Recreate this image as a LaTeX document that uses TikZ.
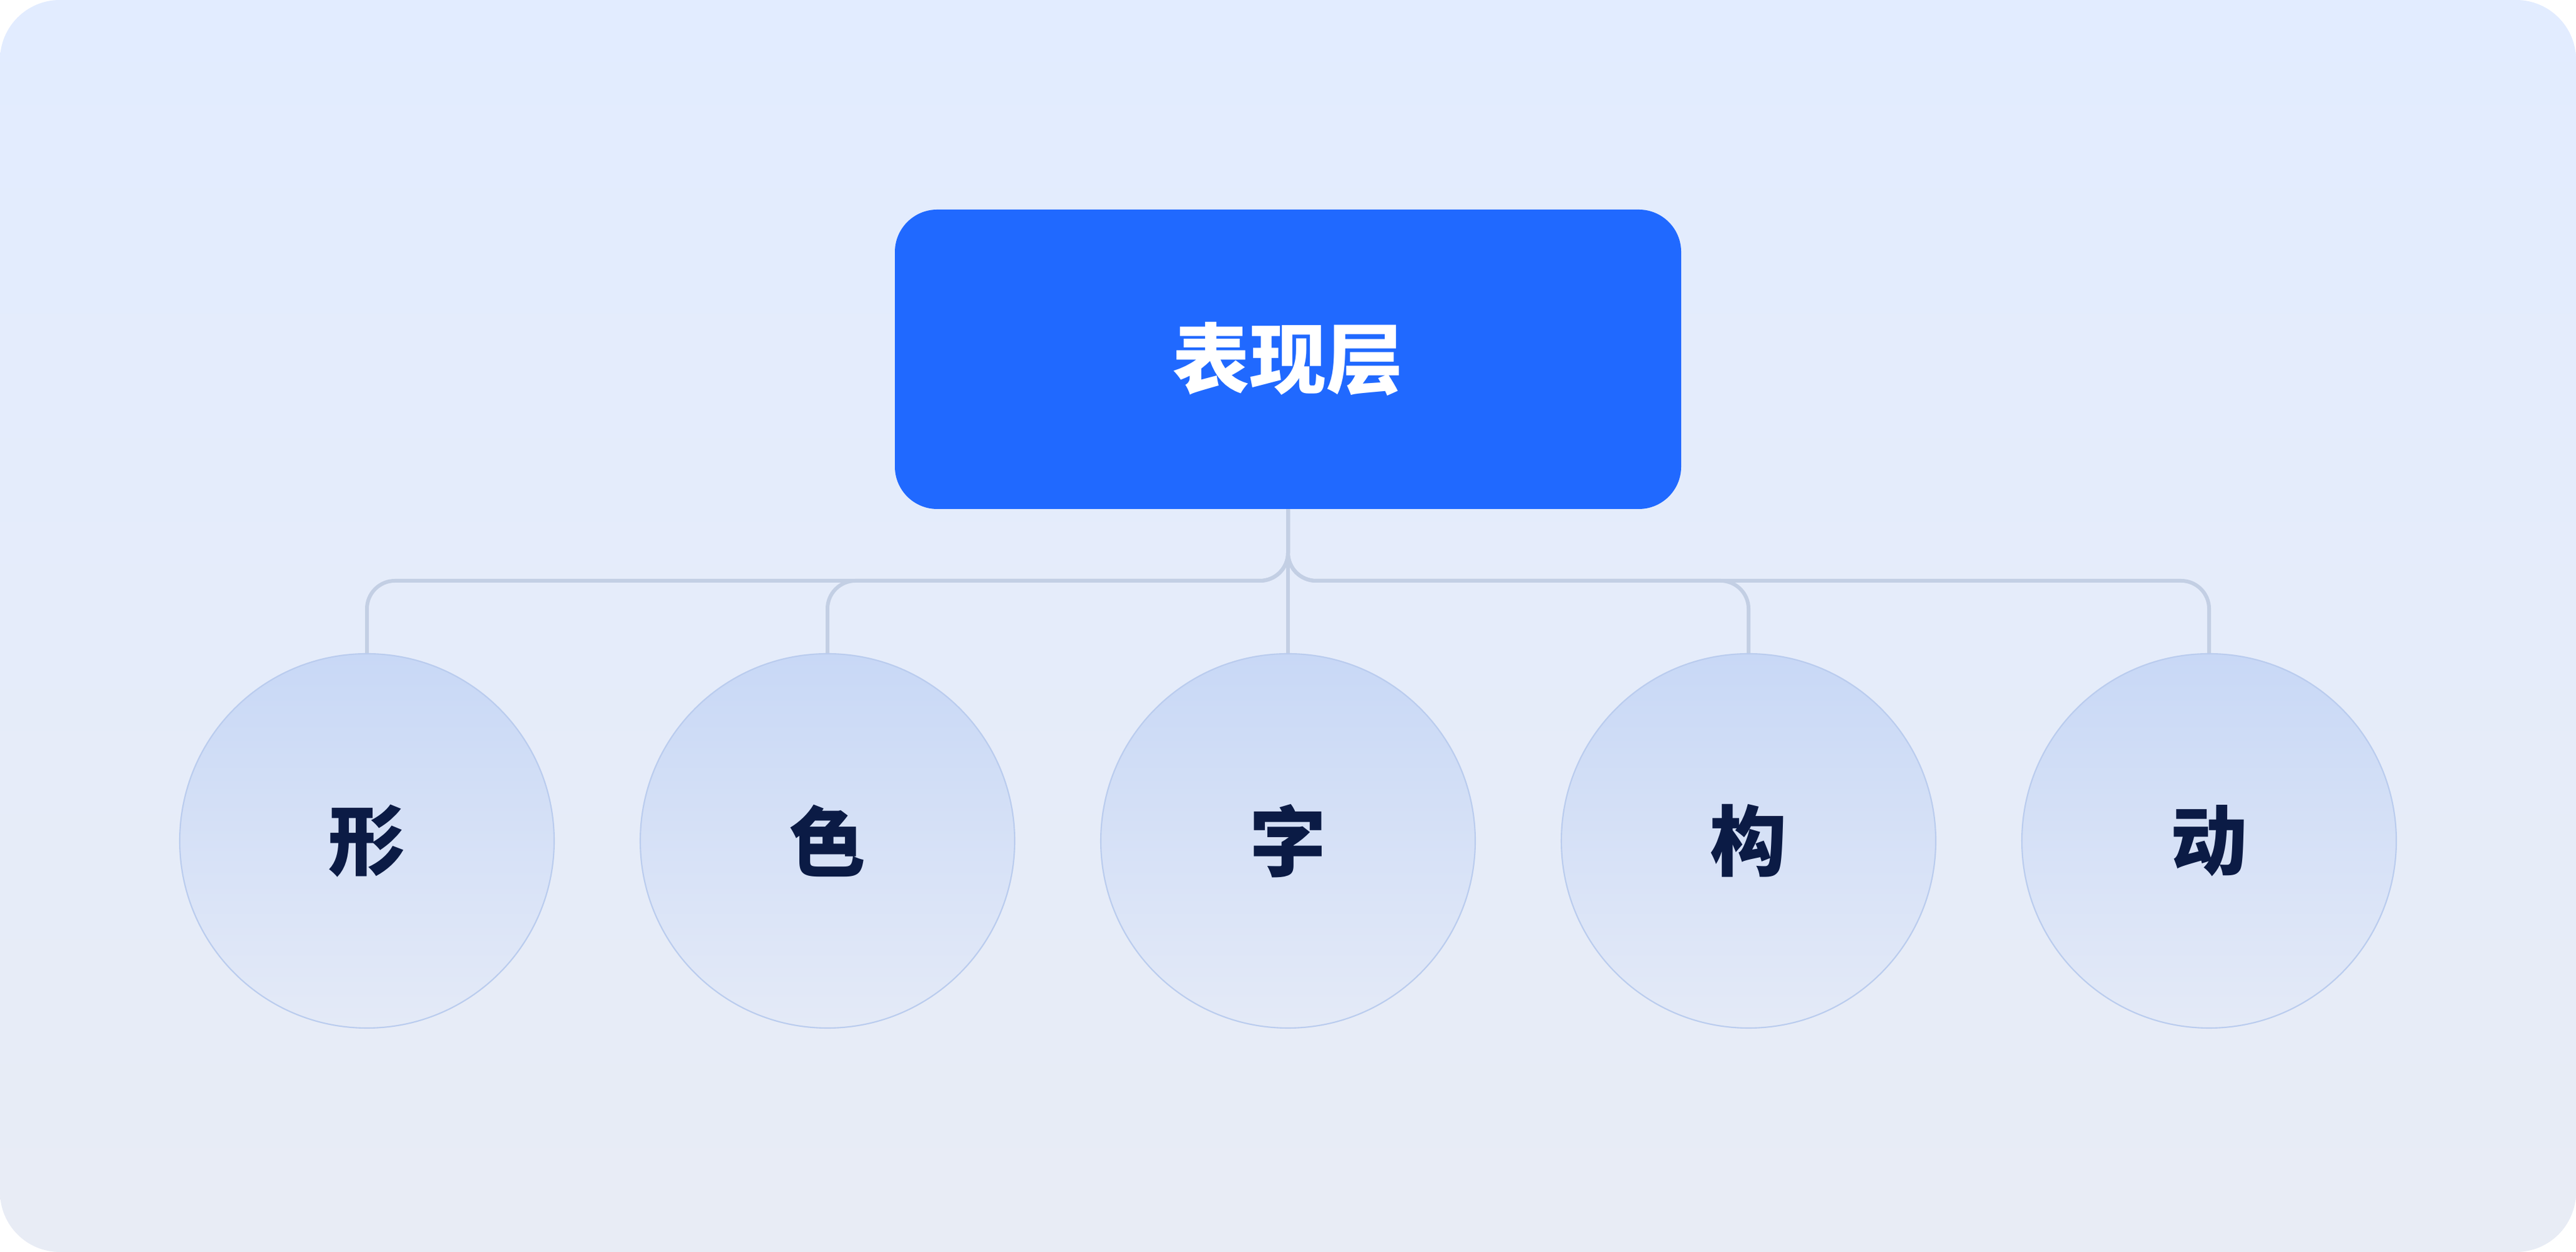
\documentclass[tikz,border=0pt]{standalone}
\usepackage{fontspec}
\newfontfamily\cjk{Noto Sans CJK SC}
\definecolor{bgtop}{HTML}{E2ECFF}
\definecolor{bgbot}{HTML}{E8ECF5}
\definecolor{boxblue}{HTML}{2069FF}
\definecolor{connc}{HTML}{C3CFE4}
\definecolor{circtop}{HTML}{C8D8F6}
\definecolor{circbot}{HTML}{E4EAF7}
\definecolor{circedge}{HTML}{BACCEE}
\definecolor{navy}{HTML}{0B1B45}
\tikzset{
  topbox/.style={rectangle, rounded corners=0.68cm, fill=boxblue, draw=none,
    minimum width=12.6cm, minimum height=4.8cm, inner sep=0pt,
    text=white, font=\cjk\bfseries\fontsize{35pt}{40pt}\selectfont},
  leaf/.style={circle, minimum size=6cm, inner sep=0pt, draw=circedge, line width=0.6pt,
    top color=circtop, bottom color=circbot,
    text=navy, font=\cjk\bfseries\fontsize{35pt}{40pt}\selectfont},
  conn/.style={draw=connc, line width=0.06cm, rounded corners=0.45cm}
}
\begin{document}
\begin{tikzpicture}
\useasboundingbox (0,0) rectangle (41.28,20.07);
\fill[white] (0,0) rectangle (41.28,20.07);
\shade[top color=bgtop, bottom color=bgbot, rounded corners=0.96cm] (0,0) rectangle (41.28,20.07);
\node[topbox] (top) at (20.64,14.31) {表现层};
\coordinate (h) at (20.64,10.76);
\path (5.88,6.59) coordinate (p1) (13.26,6.59) coordinate (p2) (20.64,6.59) coordinate (p3)
      (28.02,6.59) coordinate (p4) (35.40,6.59) coordinate (p5);
\path (p1) ++(0,3) coordinate (n1) (p2) ++(0,3) coordinate (n2) (p3) ++(0,3) coordinate (n3)
      (p4) ++(0,3) coordinate (n4) (p5) ++(0,3) coordinate (n5);
\draw[conn] (top.south) |- (n1 |- h) -- (n1);
\draw[conn] (top.south) |- (n2 |- h) -- (n2);
\draw[conn] (top.south) -- (n3);
\draw[conn] (top.south) |- (n4 |- h) -- (n4);
\draw[conn] (top.south) |- (n5 |- h) -- (n5);
\node[leaf] (c1) at (p1) {形};
\node[leaf] (c2) at (p2) {色};
\node[leaf] (c3) at (p3) {字};
\node[leaf] (c4) at (p4) {构};
\node[leaf] (c5) at (p5) {动};
\end{tikzpicture}
\end{document}
